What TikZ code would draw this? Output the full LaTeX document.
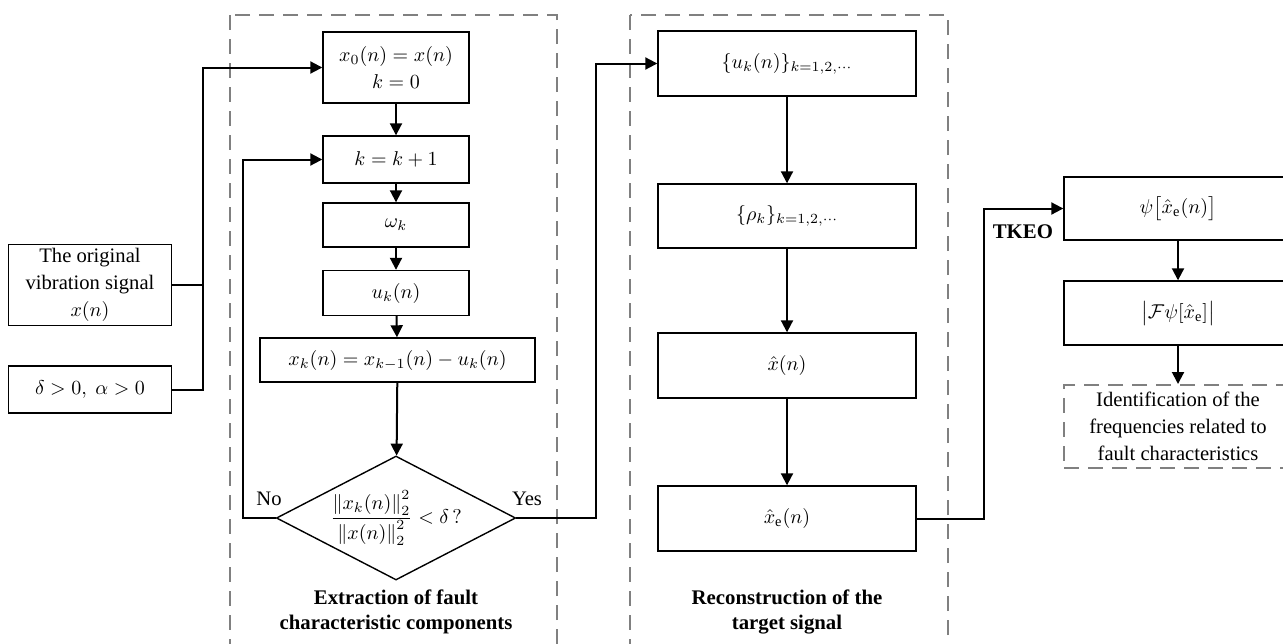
\documentclass[tikz,border=0pt]{standalone}
\usepackage{amsmath}
\usepackage{fontspec}
\setmainfont{Liberation Serif}
\usetikzlibrary{shapes.geometric,arrows.meta}

\tikzset{
  blk/.style={draw, line width=0.7pt, inner sep=1pt, align=center,
    font=\fontsize{10.3}{13.5}\selectfont},
  flow/.style={line width=1pt, -{Triangle[length=6pt,width=6pt]}},
  link/.style={line width=1pt},
  frame/.style={draw=gray, line width=1pt, dash pattern=on 7.5pt off 4.5pt},
  caption/.style={font=\fontsize{10.4}{12.5}\selectfont\bfseries, align=center},
  tag/.style={font=\fontsize{10.3}{12}\selectfont}
}

\begin{document}
\begin{tikzpicture}[x=0.5pt, y=-0.5pt]
        \useasboundingbox (0,0) rectangle (1283,643);

        % Frames
        \draw[frame] (230,15) rectangle (557,670);
        \draw[frame] (630,15) rectangle (948,670);

        % Inputs
        \node[blk, minimum width=81.5pt, minimum height=40.5pt] (orig) at (90,285)
            {The original\\vibration signal\\$x(n)$};
        \node[blk, minimum width=81.5pt, minimum height=23.5pt] (par) at (90,389.5)
            {$\delta>0,\ \alpha>0$};

        % Extraction loop
        \node[blk, minimum width=73pt, minimum height=35.5pt] (init) at (396,67.5)
            {$x_0(n)=x(n)$\\$k=0$};
        \node[blk, minimum width=73pt, minimum height=23.5pt] (inc) at (396,159.5) {$k=k+1$};
        \node[blk, minimum width=73pt, minimum height=22pt] (omega) at (396,225) {$\omega_k$};
        \node[blk, minimum width=73pt, minimum height=22.5pt] (mode) at (396,293) {$u_k(n)$};
        \node[blk, minimum width=137.5pt, minimum height=22pt] (resid) at (397.5,360)
            {$x_k(n)=x_{k-1}(n)-u_k(n)$};
        \node[blk, diamond, aspect=1.93, inner sep=0pt, minimum width=116pt, minimum height=60pt]
            (stop) at (396,518)
            {$\dfrac{\left\|x_k(n)\right\|_2^2}{\left\|x(n)\right\|_2^2}<\delta\,?$};
        \node[tag] (no) at (269,499) {No};
        \node[tag] (yes) at (527,499) {Yes};
        \node[caption] (cap1) at (396,612) {Extraction of fault\\characteristic components};

        % Reconstruction
        \node[blk, minimum width=129pt, minimum height=32.5pt] (modes) at (787,63.5)
            {$\{u_k(n)\}_{k=1,2,\cdots}$};
        \node[blk, minimum width=129pt, minimum height=32pt] (rho) at (787,216)
            {$\{\rho_k\}_{k=1,2,\cdots}$};
        \node[blk, minimum width=129pt, minimum height=32.5pt] (rec) at (787,365.5) {$\hat{x}(n)$};
        \node[blk, minimum width=129pt, minimum height=32.5pt] (env) at (787,518.5)
            {$\hat{x}_{\mathrm{e}}(n)$};
        \node[caption] (cap2) at (787,612) {Reconstruction of the\\target signal};

        % TKEO and spectrum
        \node[blk, minimum width=114pt, minimum height=31.5pt] (teo) at (1178,208.5)
            {$\psi\bigl[\hat{x}_{\mathrm{e}}(n)\bigr]$};
        \node[blk, minimum width=114pt, minimum height=32pt] (spec) at (1178,313)
            {$\bigl|\mathcal{F}\psi[\hat{x}_{\mathrm{e}}]\bigr|$};
        \node[blk, frame, minimum width=114pt, minimum height=41.5pt] (ident) at (1178,426.5)
            {Identification of the\\frequencies related to\\fault characteristics};
        \node[caption, anchor=east] (tkeo) at (1060,232) {TKEO};

        % Bends
        \coordinate (merge) at (203,0);
        \coordinate (back) at (243,0);
        \coordinate (out) at (596,0);
        \coordinate (up) at (984,0);

        % Connectors
        \draw[link] (orig.east) -- (orig.east -| merge);
        \draw[flow] (par.east) -| (merge |- init.west) -- (init.west);
        \foreach \a/\b in {init/inc, inc/omega, omega/mode, mode/resid, resid/stop,
                           modes/rho, rho/rec, rec/env, teo/spec, spec/ident} {
            \draw[flow] (\a) -- (\b);
        }
        \draw[flow] (stop.west) -- (stop.west -| back) |- (inc.west);
        \draw[flow] (stop.east) -- (stop.east -| out) |- (modes.west);
        \draw[flow] (env.east) -- (env.east -| up) |- (teo.west);
    \end{tikzpicture}
\end{document}
